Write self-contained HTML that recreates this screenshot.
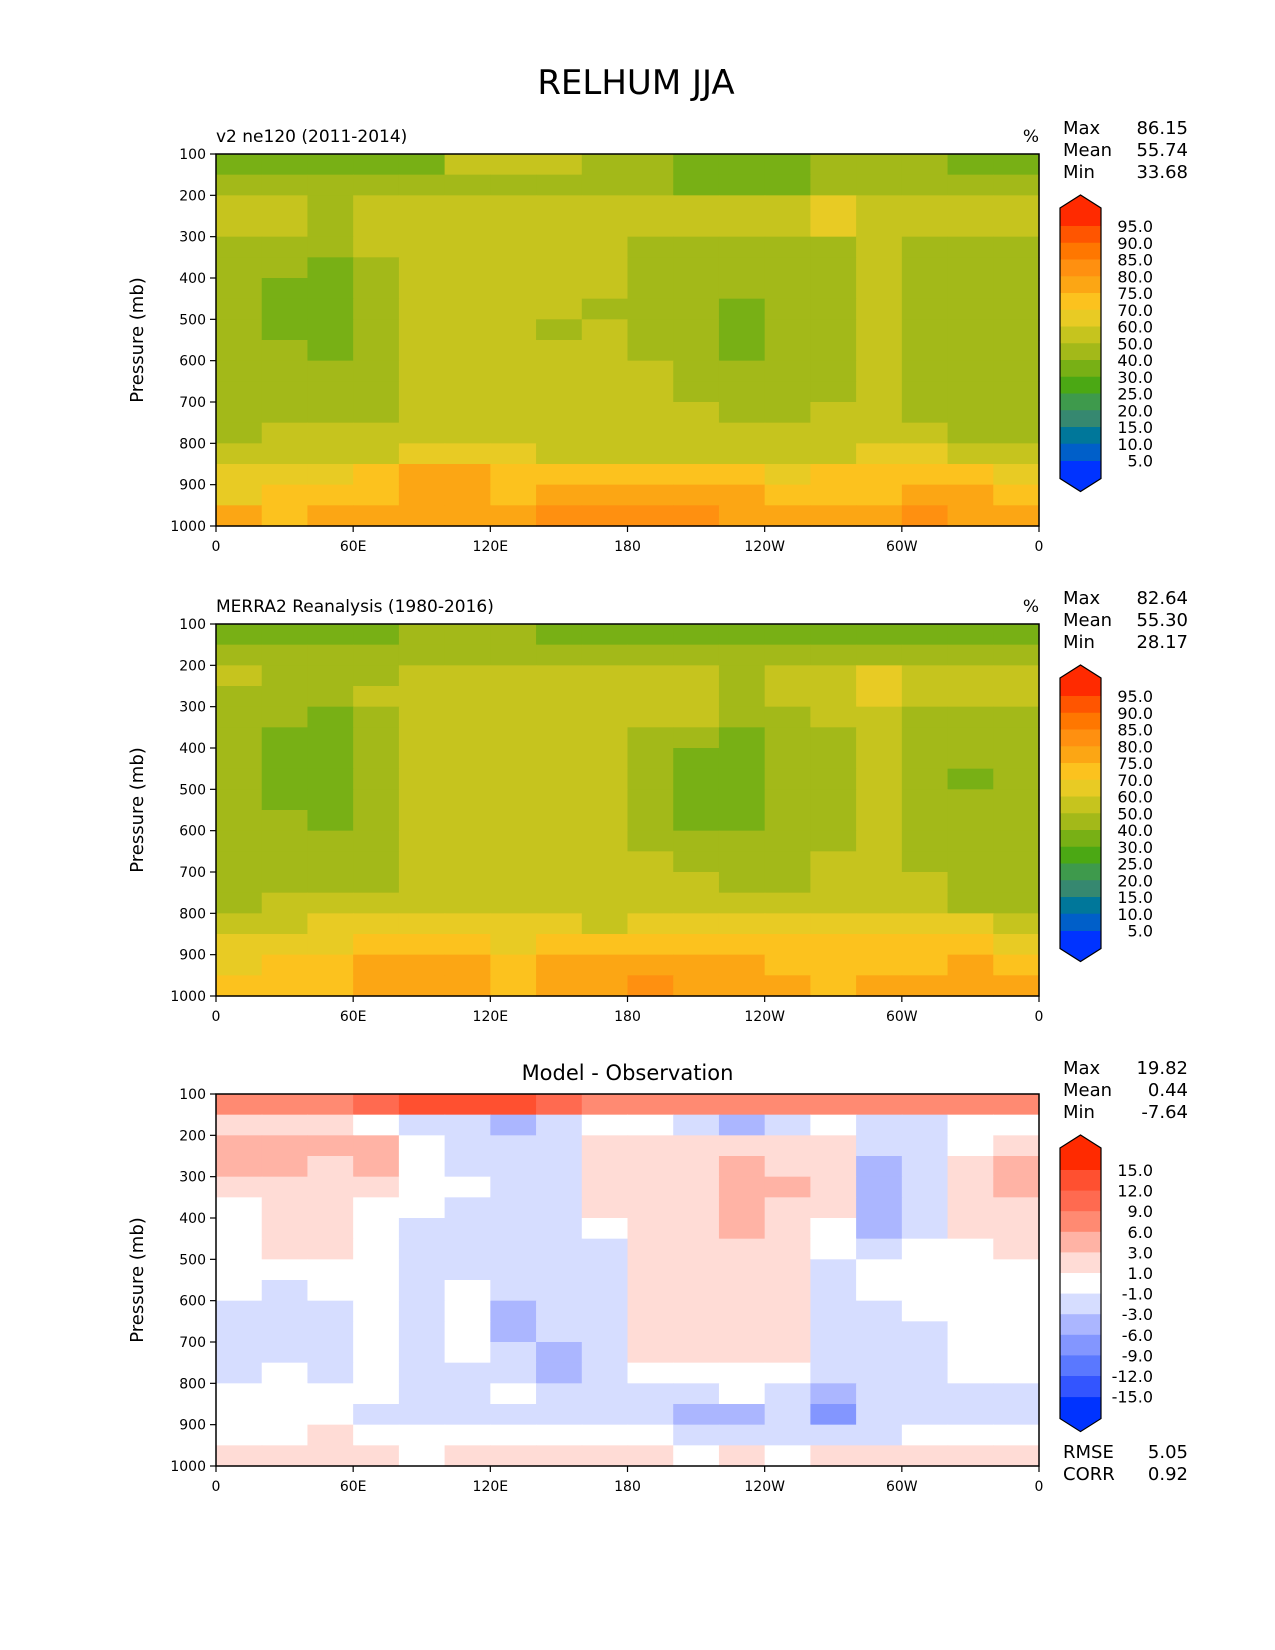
<!DOCTYPE html>
<html><head><meta charset="utf-8">
<style>
html,body{margin:0;padding:0;background:#fff;}
svg{display:block;font-family:"DejaVu Sans","Liberation Sans",sans-serif;}
</style></head>
<body>
<svg id="fig" width="1275" height="1650" viewBox="0 0 1275 1650" xmlns="http://www.w3.org/2000/svg">
<text x="636" y="94" font-size="34" text-anchor="middle" fill="#000">RELHUM JJA</text>
</svg>
<script>
const lonEdges = [0,20,40,60,80,100,120,140,160,180,200,220,240,260,280,300,320,340,360];
const presEdges = [100,150,200,250,300,350,400,450,500,550,600,650,700,750,800,850,900,950,1000];
const xTickVals = [0,60,120,180,240,300,360];
const xTickLabels = ["0","60E","120E","180","120W","60W","0"];
const yTickVals = [100,200,300,400,500,600,700,800,900,1000];
const rhLevels = [5,10,15,20,25,30,40,50,60,70,75,80,85,90,95];
const rhColors = ["#0033ff","#005fc9","#00779a","#368870","#3e9a4c","#4ba814","#78b015","#a3b919","#c6c41e","#e8cb24","#fcc21e","#fca614","#ff9010","#ff7700","#ff5500","#ff2a00"];
const diffLevels = [-15,-12,-9,-6,-3,-1,1,3,6,9,12,15];
const diffColors = ["#0033ff","#3355ff","#5a78ff","#8396ff","#abb6ff","#d6ddff","#ffffff","#ffdcd6","#ffb3a5","#ff8a72","#ff6a50","#ff5030","#ff2a00"];

const modelRH = [
[35,35,35,35,35,55,55,55,45,45,35,35,35,45,45,45,35,35],
[45,45,45,45,45,45,45,45,45,45,35,35,35,45,45,45,45,45],
[55,55,45,55,55,55,55,55,55,55,55,55,55,65,55,55,55,55],
[55,55,45,55,55,55,55,55,55,55,55,55,55,65,55,55,55,55],
[45,45,45,55,55,55,55,55,55,45,45,45,45,45,55,45,45,45],
[45,45,35,45,55,55,55,55,55,45,45,45,45,45,55,45,45,45],
[45,35,35,45,55,55,55,55,55,45,45,45,45,45,55,45,45,45],
[45,35,35,45,55,55,55,55,45,45,45,35,45,45,55,45,45,45],
[45,35,35,45,55,55,55,45,55,45,45,35,45,45,55,45,45,45],
[45,45,35,45,55,55,55,55,55,45,45,35,45,45,55,45,45,45],
[45,45,45,45,55,55,55,55,55,55,45,45,45,45,55,45,45,45],
[45,45,45,45,55,55,55,55,55,55,45,45,45,45,55,45,45,45],
[45,45,45,45,55,55,55,55,55,55,55,45,45,55,55,45,45,45],
[45,55,55,55,55,55,55,55,55,55,55,55,55,55,55,55,45,45],
[55,55,55,55,65,65,65,55,55,55,55,55,55,55,65,65,55,55],
[65,65,65,72,77,77,72,72,72,72,72,72,65,72,72,72,72,65],
[65,72,72,72,77,77,72,77,77,77,77,77,72,72,72,77,77,72],
[77,72,77,77,77,77,77,82,82,82,82,77,77,77,77,82,77,77]];

const obsRH = [
[35,35,35,35,45,45,45,35,35,35,35,35,35,35,35,35,35,35],
[45,45,45,45,45,45,45,45,45,45,45,45,45,45,45,45,45,45],
[55,45,45,45,55,55,55,55,55,55,55,45,55,55,65,55,55,55],
[45,45,45,55,55,55,55,55,55,55,55,45,55,55,65,55,55,55],
[45,45,35,45,55,55,55,55,55,55,55,45,45,55,55,45,45,45],
[45,35,35,45,55,55,55,55,55,45,45,35,45,45,55,45,45,45],
[45,35,35,45,55,55,55,55,55,45,35,35,45,45,55,45,45,45],
[45,35,35,45,55,55,55,55,55,45,35,35,45,45,55,45,35,45],
[45,35,35,45,55,55,55,55,55,45,35,35,45,45,55,45,45,45],
[45,45,35,45,55,55,55,55,55,45,35,35,45,45,55,45,45,45],
[45,45,45,45,55,55,55,55,55,45,45,45,45,45,55,45,45,45],
[45,45,45,45,55,55,55,55,55,55,45,45,45,55,55,45,45,45],
[45,45,45,45,55,55,55,55,55,55,55,45,45,55,55,55,45,45],
[45,55,55,55,55,55,55,55,55,55,55,55,55,55,55,55,45,45],
[55,55,65,65,65,65,65,65,55,65,65,65,65,65,65,65,65,55],
[65,65,65,72,72,72,65,72,72,72,72,72,72,72,72,72,72,65],
[65,72,72,77,77,77,72,77,77,77,77,77,72,72,72,72,77,72],
[72,72,72,77,77,77,72,77,77,82,77,77,77,72,77,77,77,77]];

const diffRH = [
[7,7,7,10,13,13,13,10,7,7,7,7,7,7,7,7,7,7],
[2,2,2,0,-2,-2,-4.5,-2,0,0,-2,-4.5,-2,0,-2,-2,0,0],
[4.5,4.5,4.5,4.5,0,-2,-2,-2,2,2,2,2,2,2,-2,-2,0,2],
[4.5,4.5,2,4.5,0,-2,-2,-2,2,2,2,4.5,2,2,-4.5,-2,2,4.5],
[2,2,2,2,0,0,-2,-2,2,2,2,4.5,4.5,2,-4.5,-2,2,4.5],
[0,2,2,0,0,-2,-2,-2,2,2,2,4.5,2,2,-4.5,-2,2,2],
[0,2,2,0,-2,-2,-2,-2,0,2,2,4.5,2,0,-4.5,-2,2,2],
[0,2,2,0,-2,-2,-2,-2,-2,2,2,2,2,0,-2,0,0,2],
[0,0,0,0,-2,-2,-2,-2,-2,2,2,2,2,-2,0,0,0,0],
[0,-2,0,0,-2,0,-2,-2,-2,2,2,2,2,-2,0,0,0,0],
[-2,-2,-2,0,-2,0,-4.5,-2,-2,2,2,2,2,-2,-2,0,0,0],
[-2,-2,-2,0,-2,0,-4.5,-2,-2,2,2,2,2,-2,-2,-2,0,0],
[-2,-2,-2,0,-2,0,-2,-4.5,-2,2,2,2,2,-2,-2,-2,0,0],
[-2,0,-2,0,-2,-2,-2,-4.5,-2,0,0,0,0,-2,-2,-2,0,0],
[0,0,0,0,-2,-2,0,-2,-2,-2,-2,0,-2,-4.5,-2,-2,-2,-2],
[0,0,0,-2,-2,-2,-2,-2,-2,-2,-4.5,-4.5,-2,-7.5,-2,-2,-2,-2],
[0,0,2,0,0,0,0,0,0,0,-2,-2,-2,-2,-2,0,0,0],
[2,2,2,2,0,2,2,2,2,2,0,2,0,2,2,2,2,2]];

const statNames = ["Max","Mean","Min"];
const modelStats = ["86.15","55.74","33.68"];
const obsStats = ["82.64","55.30","28.17"];
const diffStats = ["19.82","0.44","-7.64"];
const extraNames = ["RMSE","CORR"];
const extraStats = ["5.05","0.92"];

const NS = "http://www.w3.org/2000/svg";
const svg = document.getElementById("fig");
const L = 216, W = 823, H = 372;
function mk(tag, attrs, parent){ const e = document.createElementNS(NS, tag); for (const k in attrs) e.setAttribute(k, attrs[k]); (parent||svg).appendChild(e); return e; }
function colorFor(v, levels, colors){ let i = 0; while (i < levels.length && v >= levels[i]) i++; return colors[i]; }

function panel(top, data, levels, colors, name, title, centerTitle, stats, cbTop, cbStep, extH, unit){
  const g = mk("g", {});
  
  
  const xS = lon => L + lon / 360 * W;
  const yS = p => top + (p - 100) / 900 * H;
  for (let r = 0; r < data.length; r++) {
    for (let c = 0; c < data[r].length; c++) {
      const x0 = xS(lonEdges[c]), x1 = xS(lonEdges[c+1]);
      const y0 = yS(presEdges[r]), y1 = yS(presEdges[r+1]);
      const cell = mk("rect", {x: x0, y: y0, width: x1 - x0 + 0.6, height: y1 - y0 + 0.6, fill: colorFor(data[r][c], levels, colors)}, g);
      
      
    }
  }
  const frame = mk("rect", {x: L, y: top, width: W, height: H, fill: "none", stroke: "#000", "stroke-width": 1.5}, g);
  
  
  xTickVals.forEach((v, i) => {
    const x = xS(v);
    mk("line", {x1: x, x2: x, y1: top + H, y2: top + H + 6, stroke: "#000", "stroke-width": 1.2}, g);
    const t = mk("text", {x: x, y: top + H + 25, "font-size": 14, "text-anchor": "middle"}, g);
    t.textContent = xTickLabels[i];
    
    
  });
  yTickVals.forEach(v => {
    const y = yS(v);
    mk("line", {x1: L - 6, x2: L, y1: y, y2: y, stroke: "#000", "stroke-width": 1.2}, g);
    const t = mk("text", {x: L - 10, y: y + 5, "font-size": 14, "text-anchor": "end"}, g);
    t.textContent = v;
    
    
  });
  const yl = mk("text", {x: 0, y: 0, "font-size": 18, "text-anchor": "middle", transform: `translate(143,${top + H/2}) rotate(-90)`}, g);
  yl.textContent = "Pressure (mb)";
  
  
  if (title) {
    const t = mk("text", {x: L, y: top - 12, "font-size": 17}, g);
    t.textContent = title;
    
    
  }
  if (centerTitle) {
    const t = mk("text", {x: L + W/2, y: top - 14, "font-size": 21, "text-anchor": "middle"}, g);
    t.textContent = centerTitle;
    
    
  }
  if (unit) {
    const t = mk("text", {x: L + W, y: top - 12, "font-size": 17, "text-anchor": "end"}, g);
    t.textContent = unit;
    
    
  }
  statNames.forEach((n, i) => {
    const a = mk("text", {x: 1063, y: top - 20 + i * 22, "font-size": 18}, g);
    a.textContent = n;
    
    
    const b = mk("text", {x: 1188, y: top - 20 + i * 22, "font-size": 18, "text-anchor": "end"}, g);
    b.textContent = stats[i];
    
    
  });
  const cx0 = 1060, cx1 = 1101, cm = (cx0 + cx1) / 2;
  const nb = levels.length - 1;
  const b0 = cbTop + 13 + extH;
  const cg = mk("g", {}, g);
  
  
  const bTop = b0, bBot = b0 + nb * cbStep;
  mk("polygon", {points: `${cx0},${bTop} ${cx0},${bTop - extH} ${cm},${bTop - extH - 13} ${cx1},${bTop - extH} ${cx1},${bTop}`, fill: colors[colors.length - 1]}, cg);
  mk("polygon", {points: `${cx0},${bBot} ${cx0},${bBot + extH} ${cm},${bBot + extH + 13} ${cx1},${bBot + extH} ${cx1},${bBot}`, fill: colors[0]}, cg);
  for (let k = 0; k < nb; k++) {
    const yTopBand = b0 + k * cbStep;
    const ci = levels.length - 1 - k;
    const band = mk("rect", {x: cx0, y: yTopBand, width: cx1 - cx0, height: cbStep + 0.5, fill: colors[ci]}, cg);
    
    
  }
  mk("polygon", {points: `${cx0},${bTop - extH} ${cm},${bTop - extH - 13} ${cx1},${bTop - extH} ${cx1},${bBot + extH} ${cm},${bBot + extH + 13} ${cx0},${bBot + extH}`, fill: "none", stroke: "#000", "stroke-width": 1.2}, cg);
  levels.slice().reverse().forEach((lv, k) => {
    const t = mk("text", {x: 1153, y: b0 + k * cbStep + 6, "font-size": 16, "text-anchor": "end"}, cg);
    t.textContent = lv.toFixed(1);
    
    
  });
}

panel(154, modelRH, rhLevels, rhColors, "model", "v2 ne120 (2011-2014)", null, modelStats, 195, 16.75, 18, "%");
panel(624, obsRH, rhLevels, rhColors, "observation", "MERRA2 Reanalysis (1980-2016)", null, obsStats, 665, 16.75, 18, "%");
panel(1094, diffRH, diffLevels, diffColors, "difference", null, "Model - Observation", diffStats, 1135, 20.6, 22, null);
extraNames.forEach((n, i) => {
  const a = mk("text", {x: 1063, y: 1458 + i * 22, "font-size": 18});
  a.textContent = n;
  
  
  const b = mk("text", {x: 1188, y: 1458 + i * 22, "font-size": 18, "text-anchor": "end"});
  b.textContent = extraStats[i];
  
  
});
</script>
</body></html>
